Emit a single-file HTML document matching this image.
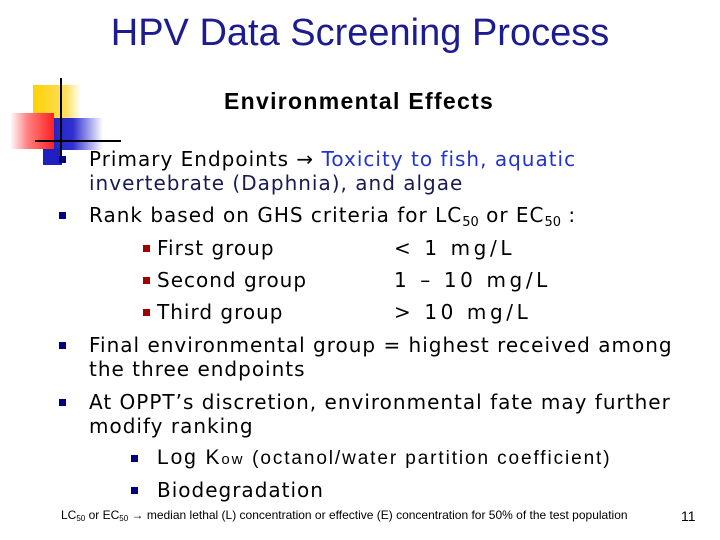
<!DOCTYPE html>
<html><head><meta charset="utf-8"><style>
body{margin:0;width:720px;height:540px;background:#fff;position:relative;overflow:hidden;font-family:"Liberation Sans",sans-serif;color:#000}
.a{position:absolute;white-space:nowrap}
.t{font-family:"DejaVu Sans",sans-serif;font-size:20px;line-height:24px;letter-spacing:1px}
.r{letter-spacing:3.6px}
.b{position:absolute;width:7px;height:7px;background:#000080;z-index:3}
.rb{position:absolute;width:7px;height:7px;background:#a00000}
sub{font-size:13px;vertical-align:-4px;line-height:0;letter-spacing:0}
</style></head><body>
<div class="a" style="left:0;width:720px;text-align:center;top:12px;font-size:38px;color:#1c1c8f">HPV Data Screening Process</div>
<div>
<div class="a" style="left:33px;top:85px;width:48px;height:34px;background:linear-gradient(90deg,#ffd000,#ffe060 70%,#fff)"></div>
<div class="a" style="left:43px;top:118px;width:60px;height:32px;background:linear-gradient(90deg,#2020c0,#3030d0 50%,#fff)"></div>
<div class="a" style="left:43px;top:148px;width:19px;height:17px;background:#2020c0"></div>
<div class="a" style="left:10px;top:113px;width:44px;height:36px;background:linear-gradient(90deg,#fff,#ff8080 40%,#ff2020)"></div>
<div class="a" style="left:60px;top:78px;width:2px;height:84px;background:#000"></div>
<div class="a" style="left:35px;top:140px;width:86px;height:2px;background:#000"></div>
</div>
<div class="a" style="left:224px;top:88px;font-size:23px;font-weight:bold;letter-spacing:1.3px">Environmental Effects</div>
<div class="b" style="left:59px;top:156px"></div>
<div class="a t" style="left:89px;top:147px">Primary Endpoints → <span style="color:#2233cc">Toxicity to fish, aquatic</span><br><span style="color:#1a1a50">invertebrate (Daphnia), and algae</span></div>
<div class="b" style="left:59px;top:212px"></div>
<div class="a t" style="left:89px;top:203px">Rank based on GHS criteria for LC<sub>50</sub> or EC<sub>50</sub> :</div>
<div class="rb" style="left:143px;top:245px"></div>
<div class="a t" style="left:157px;top:236px">First group</div>
<div class="a t r" style="left:394px;top:236px">&lt; 1 mg/L</div>
<div class="rb" style="left:143px;top:277px"></div>
<div class="a t" style="left:157px;top:268px">Second group</div>
<div class="a t r" style="left:394px;top:268px">1 – 10 mg/L</div>
<div class="rb" style="left:143px;top:309px"></div>
<div class="a t" style="left:157px;top:300px">Third group</div>
<div class="a t r" style="left:394px;top:300px">&gt; 10 mg/L</div>
<div class="b" style="left:59px;top:342px"></div>
<div class="a t" style="left:89px;top:333px">Final environmental group = highest received among<br>the three endpoints</div>
<div class="b" style="left:59px;top:399px"></div>
<div class="a t" style="left:89px;top:390px">At OPPT’s discretion, environmental fate may further<br>modify ranking</div>
<div class="b" style="left:131px;top:455px"></div>
<div class="a" style="left:157px;top:446px;font-size:21px;letter-spacing:1.9px">Log K<span style="font-size:15px">ow</span> <span style="font-size:19px">(octanol/water partition coefficient)</span></div>
<div class="b" style="left:131px;top:487px"></div>
<div class="a t" style="left:157px;top:478px">Biodegradation</div>
<div class="a" style="left:61px;top:508px;font-size:12px;letter-spacing:0px">LC<sub style="font-size:8px;vertical-align:-2px">50</sub> or EC<sub style="font-size:8px;vertical-align:-2px">50</sub> → median lethal (L) concentration or effective (E) concentration for 50% of the test population</div>
<div class="a" style="left:681px;top:508px;font-size:14px">11</div>
</body></html>
